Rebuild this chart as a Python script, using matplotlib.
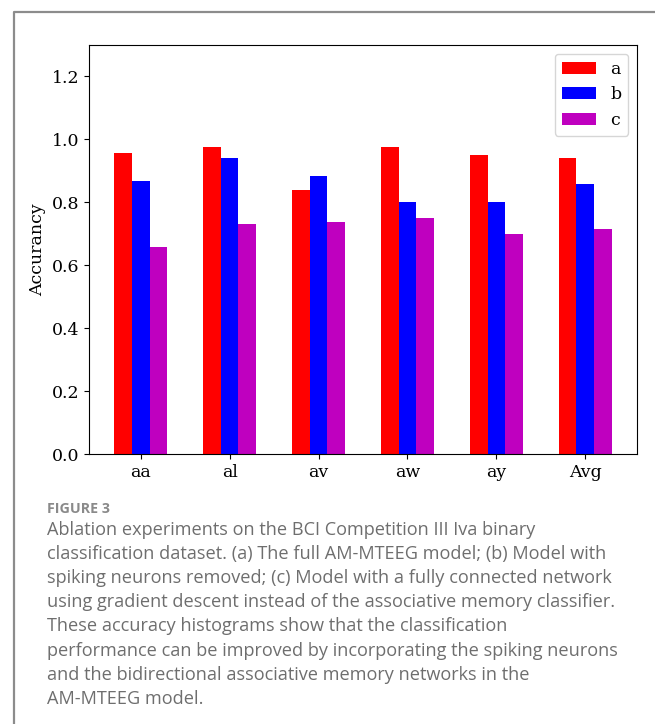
import matplotlib.pyplot as plt
import numpy as np

# subjects and accuracy of the three model variants
subjects = ['aa', 'al', 'av', 'aw', 'ay', 'Avg']
acc_a = [0.958, 0.977, 0.840, 0.977, 0.952, 0.942]
acc_b = [0.869, 0.942, 0.885, 0.802, 0.802, 0.859]
acc_c = [0.659, 0.732, 0.738, 0.751, 0.700, 0.716]
series_names = ['a', 'b', 'c']
yticks = [0.0, 0.2, 0.4, 0.6, 0.8, 1.0, 1.2]

caption_head = 'FIGURE 3'
caption_lines = [
    'Ablation experiments on the BCI Competition III Iva binary',
    'classification dataset. (a) The full AM-MTEEG model; (b) Model with',
    'spiking neurons removed; (c) Model with a fully connected network',
    'using gradient descent instead of the associative memory classifier.',
    'These accuracy histograms show that the classification',
    'performance can be improved by incorporating the spiking neurons',
    'and the bidirectional associative memory networks in the',
    'AM-MTEEG model.',
]

plt.rcParams['font.family'] = 'DejaVu Serif'

fig = plt.figure(figsize=(6.55, 7.24), dpi=100)
ax = fig.add_axes([0.1359, 0.3729, 0.8366, 0.5649])

x = np.arange(len(subjects))
w = 0.2
ax.bar(x - w, acc_a, w, color='red', label=series_names[0])
ax.bar(x, acc_b, w, color='blue', label=series_names[1])
ax.bar(x + w, acc_c, w, color='m', label=series_names[2])

ax.set_xticks(x)
ax.set_xticklabels(subjects)
ax.set_yticks(yticks)
ax.set_ylim(0, 1.3)
ax.tick_params(labelsize=12.5)
ax.set_ylabel('Accurancy', fontsize=12.5)
ax.legend(loc='upper right', fontsize=12.5)

# caption under the chart
fig.text(47 / 655, 1 - 509 / 724, caption_head, family='Open Sans', weight='bold',
         fontsize=10.3, color='#8a8a8a', va='center')
for i, line in enumerate(caption_lines):
    fig.text(47 / 655, 1 - (530 + 24.1 * i) / 724, line, family='Open Sans',
             fontsize=13.1, color='#6e6e6e', va='center')

# grey frame along top and left edge
fig.add_artist(plt.Line2D([14 / 655, 14 / 655, 1], [0, 1 - 12 / 724, 1 - 12 / 724],
                          color='#8c8c8c', lw=1.6, transform=fig.transFigure))

fig.savefig('out.png', dpi=100)
